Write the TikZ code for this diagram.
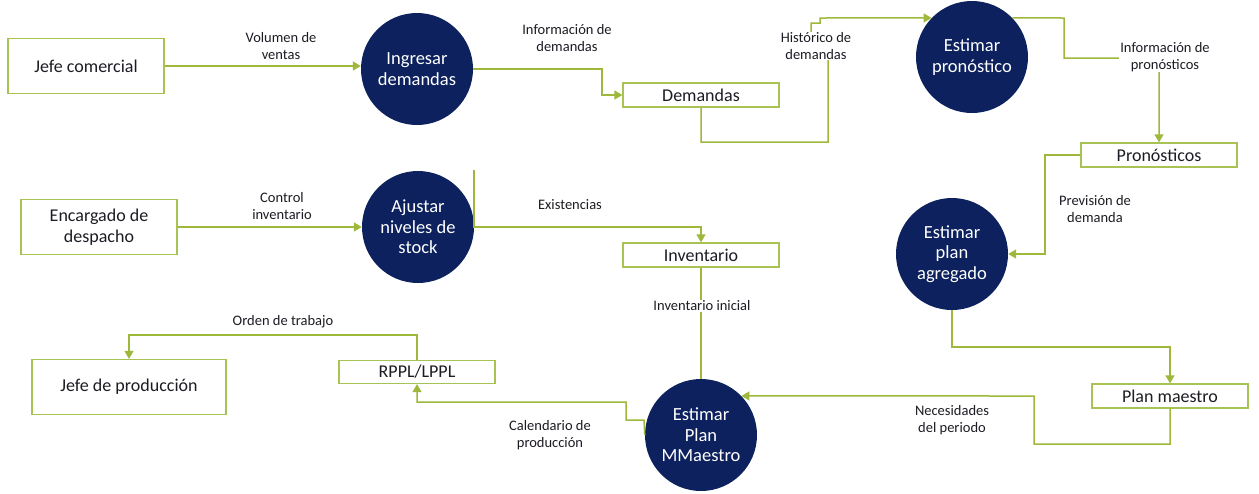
\documentclass[tikz,border=0pt]{standalone}
\usepackage{fontspec}
\setmainfont{Carlito}
\usetikzlibrary{arrows.meta}
\definecolor{flowgreen}{HTML}{9DB83A}
\definecolor{boxgreen}{HTML}{A9C254}
\definecolor{procnavy}{HTML}{0C215E}
\definecolor{inktext}{HTML}{1C1C24}
\tikzset{
  entity/.style={draw=boxgreen, line width=1.3pt, fill=white, minimum width=156, minimum height=55,
    inner sep=0pt, align=center, text=inktext, font=\fontsize{18}{20.5}\selectfont},
  store/.style={draw=boxgreen, line width=1.3pt, fill=white, minimum width=156, minimum height=24,
    inner sep=0pt, align=center, text=inktext, font=\fontsize{18}{20.5}\selectfont},
  proc/.style={circle, fill=procnavy, text=white, minimum size=112, inner sep=0pt, align=center,
    font=\fontsize{18.5}{20.5}\selectfont},
  flow/.style={draw=flowgreen, line width=1.5pt, -{Triangle[length=8pt,width=9pt]}},
  plain/.style={draw=flowgreen, line width=1.5pt},
  lbl/.style={fill=white, align=center, text=inktext, inner sep=1pt,
    font=\fontsize{14.5}{16.5}\selectfont}
}
\begin{document}
\begin{tikzpicture}[x=1pt,y=-1pt]
\useasboundingbox (0,0) rectangle (1259,493);

% external entities, stores and processes
\node[entity] (jc) at (86,66) {Jefe comercial};
\node[proc] (ing) at (417,69) {Ingresar\\demandas};
\node[store] (dem) at (701,95) {Demandas};
\node[proc] (pron) at (972,57) {Estimar\\pronóstico};
\node[store] (pst) at (1159,155) {Pronósticos};
\node[entity] (enc) at (99,227) {Encargado de\\despacho};
\node[proc] (aju) at (418,227) {Ajustar\\niveles de\\stock};
\node[store] (inv) at (701,255) {Inventario};
\node[proc] (agr) at (952,254) {Estimar\\plan\\agregado};
\node[entity, minimum width=194] (jp) at (129,387) {Jefe de producción};
\node[store, minimum height=23] (rp) at (417,372) {RPPL/LPPL};
\node[store] (pm) at (1170,396) {Plan maestro};
\node[proc] (mps) at (701,435) {Estimar\\Plan\\MMaestro};
\coordinate (stub) at (474,170);

% data flows
\draw[flow] (jc.east) -- (jc.east -| ing.west);
\draw[flow] (ing.east) -- (602,69) |- (dem.west);
\draw[flow] (dem.south) |- (828,142) -- (828,45) -- (811,45) -- (811,23) -- (820,23) -- (820,18) -- (pron.136);
\draw[flow] (pron.44) -- (1064,18) -- (1064,58) -- (1159,58) -- (pst.north);
\draw[flow] (pst.west) -- (1045,155) |- (agr.east);
\draw[flow] (enc.east) -- (enc.east -| aju.west);
\draw[flow] (stub) -- (474,227) -- (701,227) -- (inv.north);
\draw[plain] (inv.south) -- (mps.north);
\draw[flow] (agr.south) -- (952,347) -| (pm.north);
\draw[flow] (pm.south) -- (1170,444) -| (1034,396) -- (mps.44);
\draw[flow] (mps.west) -- (644,420) -- (626,420) -- (626,402) -| (rp.south);
\draw[flow] (rp.north) -- ++(0,-25) -| (jp.north);

% flow labels
\node[lbl] (l1) at (281,46) {Volumen de\\ventas};
\node[lbl] (l2) at (567,38) {Información de\\demandas};
\node[lbl] (l3) at (816,46) {Histórico de\\demandas};
\node[lbl] (l4) at (1165,57) {Información de\\pronósticos};
\node[lbl] (l5) at (282,206) {Control\\inventario};
\node[lbl] (l6) at (570,205) {Existencias};
\node[lbl] (l7) at (702,306) {Inventario inicial};
\node[lbl] (l8) at (1095,209) {Previsión de\\demanda};
\node[lbl] (l9) at (283,322) {Orden de trabajo};
\node[lbl] (l10) at (550,435) {Calendario de\\producción};
\node[lbl] (l11) at (952,420) {Necesidades\\del periodo};
\end{tikzpicture}
\end{document}
